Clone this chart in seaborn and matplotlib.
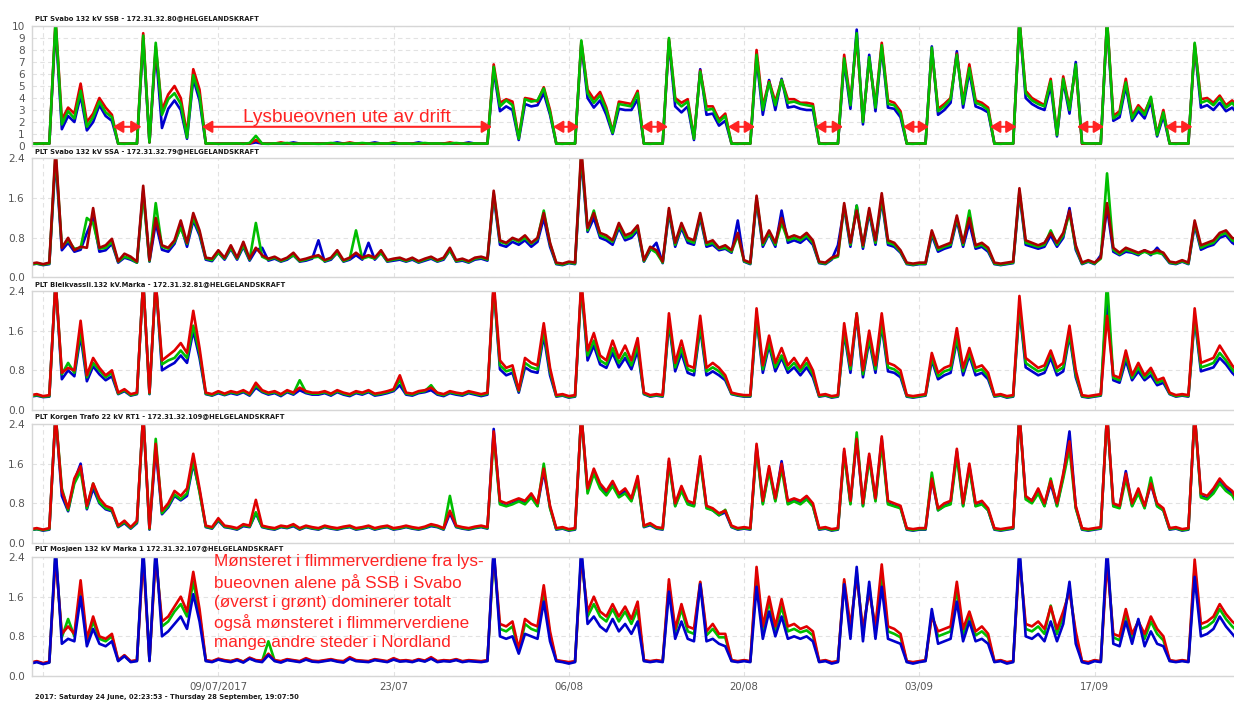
import matplotlib
matplotlib.use("Agg")
import matplotlib.pyplot as plt
import matplotlib.dates as mdates
import pandas as pd
import seaborn as sns

W, H = 1234, 702

# flicker values (Plt) sampled every 12 hours from Saturday 24 June 2017 00:00
times = pd.date_range("2017-06-24 00:00", periods=194, freq="12h")
t_start = pd.Timestamp("2017-06-24 02:23:53")
t_end = pd.Timestamp("2017-09-28 19:07:50")

# --- PLT Svabo 132 kV SSB ---
ssb_green = [0.2, 0.18, 0.22, 0.2,
             10.5, 1.8, 2.9, 2.3, 4.6, 1.6, 2.4, 3.7, 2.8, 2.4, 0.2, 0.18, 0.22, 0.2,
             9.2, 0.3, 8.6, 2.6, 3.9, 4.4, 3.5, 0.7, 5.9, 4.2, 0.2, 0.22, 0.18, 0.2,
             0.2, 0.22, 0.18, 0.25, 0.85, 0.2, 0.18, 0.22, 0.2, 0.25, 0.18, 0.2, 0.22, 0.2,
             0.18, 0.2, 0.25, 0.2, 0.18, 0.22, 0.2, 0.25, 0.2, 0.18, 0.22, 0.2, 0.25, 0.2,
             0.22, 0.18, 0.2, 0.25, 0.2, 0.22, 0.18, 0.2, 0.25, 0.2, 0.18, 0.22, 0.2, 0.2,
             6.6, 3.3, 3.8, 3.4, 0.6, 3.9, 3.7, 3.8, 4.8, 2.8, 0.2, 0.18, 0.22, 0.2,
             8.8, 4.4, 3.6, 4.2, 3.0, 1.1, 3.5, 3.4, 3.3, 4.4, 0.2, 0.18, 0.22, 0.2,
             9.0, 3.8, 3.3, 3.7, 0.6, 6.2, 3.0, 3.1, 2.0, 2.5, 0.2, 0.18, 0.22, 0.2,
             7.6, 3.0, 5.3, 3.4, 5.5, 3.6, 3.7, 3.5, 3.4, 3.3, 0.2, 0.18, 0.22, 0.2,
             7.3, 3.4, 9.4, 2.0, 7.4, 3.2, 8.4, 3.5, 3.4, 2.7, 0.2, 0.18, 0.22, 0.2,
             8.2, 2.9, 3.3, 3.9, 7.6, 3.5, 6.5, 3.6, 3.4, 3.0, 0.2, 0.18, 0.22, 0.2,
             10.5, 4.4, 3.8, 3.5, 3.3, 5.4, 0.9, 5.6, 3.0, 6.8, 0.25, 0.2, 0.22, 0.2,
             10.5, 2.3, 2.7, 5.3, 2.3, 3.2, 2.6, 4.1, 0.9, 2.8, 0.2, 0.18, 0.22, 0.2,
             8.6, 3.6, 3.8, 3.4, 4.0, 3.2, 3.6, 2.9]
ssb_red = [0.2, 0.2, 0.2, 0.2,
           10.5, 2.2, 3.2, 2.7, 5.2, 2.0, 2.7, 4.0, 3.2, 2.6, 0.2, 0.2, 0.2, 0.2,
           9.4, 0.3, 8.3, 3.0, 4.3, 5.0, 4.0, 1.0, 6.4, 4.7, 0.2, 0.2, 0.2, 0.2,
           0.2, 0.2, 0.2, 0.2, 0.5, 0.2, 0.2, 0.2, 0.3, 0.2, 0.2, 0.2, 0.2, 0.2,
           0.2, 0.2, 0.2, 0.2, 0.2, 0.3, 0.2, 0.2, 0.2, 0.2, 0.2, 0.2, 0.3, 0.2,
           0.2, 0.2, 0.2, 0.2, 0.2, 0.2, 0.2, 0.3, 0.2, 0.2, 0.2, 0.2, 0.2, 0.2,
           6.8, 3.6, 3.9, 3.7, 0.7, 4.0, 3.9, 3.7, 4.9, 3.0, 0.2, 0.2, 0.2, 0.2,
           8.7, 4.7, 3.9, 4.5, 3.2, 1.2, 3.7, 3.6, 3.5, 4.6, 0.2, 0.2, 0.2, 0.2,
           8.9, 4.0, 3.6, 3.9, 0.7, 6.3, 3.3, 3.3, 2.2, 2.7, 0.2, 0.2, 0.2, 0.2,
           8.0, 3.3, 5.4, 3.7, 5.5, 3.9, 3.9, 3.6, 3.6, 3.5, 0.2, 0.2, 0.2, 0.2,
           7.6, 3.7, 9.0, 2.1, 7.2, 3.4, 8.6, 3.8, 3.6, 2.9, 0.2, 0.2, 0.2, 0.2,
           8.0, 3.1, 3.5, 4.0, 7.7, 3.7, 6.8, 3.8, 3.6, 3.2, 0.2, 0.2, 0.2, 0.2,
           10.5, 4.6, 4.0, 3.7, 3.4, 5.6, 1.0, 5.8, 3.2, 6.6, 0.2, 0.2, 0.2, 0.2,
           10.5, 2.5, 2.9, 5.6, 2.5, 3.4, 2.8, 4.0, 1.0, 3.0, 0.2, 0.2, 0.2, 0.2,
           8.5, 3.9, 4.0, 3.6, 4.2, 3.4, 3.8, 3.1]
ssb_blue = [0.2, 0.2, 0.2, 0.2,
            10.0, 1.4, 2.5, 2.0, 4.2, 1.3, 2.0, 3.4, 2.5, 2.1, 0.2, 0.2, 0.2, 0.2,
            8.8, 0.3, 8.0, 1.5, 3.1, 3.8, 3.0, 0.6, 5.6, 3.8, 0.2, 0.2, 0.2, 0.2,
            0.2, 0.2, 0.2, 0.2, 0.3, 0.2, 0.2, 0.2, 0.2, 0.2, 0.3, 0.2, 0.2, 0.2,
            0.2, 0.2, 0.2, 0.3, 0.2, 0.2, 0.2, 0.2, 0.2, 0.3, 0.2, 0.2, 0.2, 0.2,
            0.2, 0.2, 0.3, 0.2, 0.2, 0.2, 0.2, 0.2, 0.2, 0.2, 0.3, 0.2, 0.2, 0.2,
            6.3, 2.9, 3.3, 3.0, 0.5, 3.5, 3.3, 3.4, 4.4, 2.6, 0.2, 0.2, 0.2, 0.2,
            8.5, 4.0, 3.2, 3.8, 2.6, 1.0, 3.1, 3.0, 3.0, 3.9, 0.2, 0.2, 0.2, 0.2,
            8.7, 3.3, 2.8, 3.3, 0.5, 6.4, 2.6, 2.7, 1.7, 2.1, 0.2, 0.2, 0.2, 0.2,
            7.3, 2.6, 5.5, 3.0, 5.6, 3.2, 3.3, 3.1, 3.0, 3.0, 0.2, 0.2, 0.2, 0.2,
            7.0, 3.1, 9.7, 1.8, 7.6, 2.9, 8.2, 3.2, 3.1, 2.4, 0.2, 0.2, 0.2, 0.2,
            8.3, 2.6, 3.0, 3.6, 7.9, 3.2, 6.2, 3.3, 3.1, 2.8, 0.2, 0.2, 0.2, 0.2,
            10.3, 4.0, 3.5, 3.2, 3.0, 5.0, 0.8, 5.4, 2.7, 7.0, 0.2, 0.2, 0.2, 0.2,
            10.3, 2.1, 2.4, 5.0, 2.1, 2.9, 2.3, 3.7, 0.8, 2.5, 0.2, 0.2, 0.2, 0.2,
            8.3, 3.2, 3.4, 3.0, 3.6, 2.9, 3.2, 2.6]

# --- PLT Svabo 132 kV SSA ---
ssa_red = [0.28, 0.3, 0.27, 0.3,
           2.6, 0.6, 0.8, 0.55, 0.62, 0.6, 1.4, 0.6, 0.65, 0.78, 0.33, 0.48, 0.42, 0.32,
           1.85, 0.35, 1.2, 0.65, 0.6, 0.75, 1.15, 0.7, 1.3, 0.95, 0.4, 0.38, 0.55, 0.4,
           0.65, 0.4, 0.72, 0.38, 0.6, 0.45, 0.38, 0.42, 0.35, 0.4, 0.5, 0.35, 0.38, 0.42,
           0.45, 0.35, 0.4, 0.55, 0.35, 0.4, 0.5, 0.4, 0.45, 0.4, 0.55, 0.35, 0.38, 0.4,
           0.35, 0.4, 0.33, 0.38, 0.42, 0.35, 0.4, 0.6, 0.35, 0.38, 0.33, 0.4, 0.42, 0.38,
           1.75, 0.75, 0.7, 0.8, 0.75, 0.85, 0.7, 0.8, 1.3, 0.7, 0.3, 0.28, 0.32, 0.3,
           2.6, 1.0, 1.3, 0.9, 0.85, 0.75, 1.1, 0.85, 0.9, 1.05, 0.35, 0.62, 0.55, 0.32,
           1.4, 0.7, 1.1, 0.8, 0.75, 1.3, 0.7, 0.75, 0.6, 0.65, 0.55, 0.9, 0.35, 0.3,
           1.65, 0.7, 0.95, 0.7, 1.2, 0.8, 0.85, 0.8, 0.9, 0.75, 0.32, 0.3, 0.4, 0.45,
           1.5, 0.7, 1.35, 0.65, 1.4, 0.75, 1.7, 0.75, 0.7, 0.55, 0.3, 0.28, 0.3, 0.3,
           0.95, 0.6, 0.65, 0.7, 1.25, 0.7, 1.2, 0.65, 0.7, 0.6, 0.3, 0.28, 0.3, 0.32,
           1.8, 0.75, 0.7, 0.65, 0.7, 0.9, 0.7, 0.9, 1.35, 0.65, 0.3, 0.35, 0.3, 0.4,
           1.5, 0.6, 0.5, 0.6, 0.55, 0.5, 0.55, 0.5, 0.55, 0.5, 0.32, 0.3, 0.35, 0.3,
           1.15, 0.65, 0.7, 0.75, 0.9, 0.95, 0.8, 0.75]
ssa_green = [0.27, 0.28, 0.26, 0.28,
             2.5, 0.62, 0.75, 0.58, 0.6, 1.2, 1.1, 0.58, 0.6, 0.72, 0.32, 0.42, 0.38, 0.3,
             1.7, 0.33, 1.5, 0.62, 0.58, 0.72, 1.0, 0.68, 1.2, 0.9, 0.38, 0.35, 0.5, 0.38,
             0.6, 0.38, 0.65, 0.36, 1.1, 0.42, 0.36, 0.4, 0.33, 0.38, 0.45, 0.33, 0.36, 0.4,
             0.42, 0.33, 0.38, 0.5, 0.33, 0.38, 0.95, 0.38, 0.42, 0.38, 0.5, 0.33, 0.36, 0.38,
             0.33, 0.38, 0.31, 0.36, 0.4, 0.33, 0.38, 0.55, 0.33, 0.36, 0.31, 0.38, 0.4, 0.36,
             1.7, 0.72, 0.68, 0.78, 0.72, 0.8, 0.68, 0.78, 1.35, 0.68, 0.28, 0.26, 0.3, 0.28,
             2.5, 0.95, 1.35, 0.85, 0.8, 0.72, 1.05, 0.8, 0.85, 1.0, 0.33, 0.58, 0.5, 0.3,
             1.35, 0.66, 1.05, 0.75, 0.7, 1.25, 0.66, 0.7, 0.58, 0.6, 0.52, 0.85, 0.33, 0.28,
             1.6, 0.66, 0.9, 0.66, 1.1, 0.75, 0.8, 0.75, 0.85, 0.7, 0.3, 0.28, 0.38, 0.42,
             1.45, 0.66, 1.45, 0.62, 1.35, 0.7, 1.6, 0.7, 0.66, 0.52, 0.28, 0.26, 0.28, 0.28,
             0.9, 0.56, 0.62, 0.66, 1.2, 0.66, 1.35, 0.62, 0.66, 0.56, 0.28, 0.26, 0.28, 0.3,
             1.75, 0.7, 0.66, 0.62, 0.66, 0.95, 0.66, 0.85, 1.3, 0.6, 0.28, 0.33, 0.28, 0.38,
             2.1, 0.56, 0.47, 0.56, 0.52, 0.47, 0.52, 0.47, 0.5, 0.47, 0.3, 0.28, 0.33, 0.28,
             1.1, 0.6, 0.66, 0.7, 0.85, 0.9, 0.75, 0.7]
ssa_blue = [0.26, 0.28, 0.25, 0.27,
            2.4, 0.55, 0.7, 0.52, 0.56, 0.9, 1.2, 0.52, 0.55, 0.68, 0.3, 0.4, 0.36, 0.3,
            1.75, 0.32, 1.1, 0.56, 0.52, 0.68, 1.05, 0.62, 1.15, 0.85, 0.36, 0.33, 0.5, 0.36,
            0.58, 0.36, 0.62, 0.34, 0.55, 0.6, 0.34, 0.38, 0.32, 0.36, 0.45, 0.32, 0.34, 0.38,
            0.75, 0.32, 0.36, 0.5, 0.32, 0.36, 0.45, 0.36, 0.7, 0.36, 0.5, 0.32, 0.34, 0.36,
            0.32, 0.36, 0.3, 0.34, 0.38, 0.32, 0.36, 0.55, 0.32, 0.34, 0.3, 0.36, 0.38, 0.34,
            1.65, 0.66, 0.62, 0.72, 0.66, 0.75, 0.62, 0.72, 1.2, 0.62, 0.27, 0.25, 0.29, 0.27,
            2.4, 0.92, 1.2, 0.8, 0.75, 0.66, 1.0, 0.75, 0.8, 0.95, 0.32, 0.55, 0.7, 0.29,
            1.3, 0.62, 1.0, 0.7, 0.66, 1.2, 0.62, 0.66, 0.55, 0.58, 0.5, 1.15, 0.32, 0.27,
            1.55, 0.62, 0.88, 0.62, 1.35, 0.7, 0.75, 0.7, 0.8, 0.66, 0.29, 0.27, 0.36, 0.65,
            1.4, 0.62, 1.45, 0.58, 1.3, 0.66, 1.55, 0.66, 0.62, 0.5, 0.27, 0.25, 0.27, 0.27,
            0.85, 0.52, 0.58, 0.62, 1.15, 0.62, 1.1, 0.58, 0.62, 0.52, 0.27, 0.25, 0.27, 0.29,
            1.7, 0.66, 0.62, 0.58, 0.62, 0.85, 0.62, 0.8, 1.4, 0.56, 0.27, 0.32, 0.27, 0.45,
            1.4, 0.52, 0.45, 0.52, 0.5, 0.45, 0.55, 0.45, 0.6, 0.45, 0.29, 0.27, 0.32, 0.27,
            1.05, 0.56, 0.62, 0.66, 0.8, 0.85, 0.7, 0.62]

# --- PLT Bleikvassli 132 kV Marka ---
bleik_red = [0.3, 0.32, 0.28, 0.3,
             2.6, 0.75, 0.85, 0.8, 1.8, 0.7, 1.05, 0.85, 0.7, 0.8, 0.35, 0.42, 0.32, 0.35,
             2.6, 0.35, 2.6, 1.0, 1.1, 1.2, 1.35, 1.15, 2.0, 1.25, 0.35, 0.32, 0.38, 0.33,
             0.38, 0.35, 0.4, 0.33, 0.55, 0.4, 0.35, 0.38, 0.32, 0.4, 0.35, 0.45, 0.38, 0.35,
             0.35, 0.38, 0.33, 0.4, 0.35, 0.32, 0.38, 0.35, 0.4, 0.33, 0.35, 0.38, 0.42, 0.7,
             0.35, 0.33, 0.38, 0.4, 0.45, 0.35, 0.32, 0.38, 0.35, 0.33, 0.38, 0.35, 0.32, 0.35,
             2.6, 1.0, 0.85, 0.9, 0.4, 1.05, 0.95, 0.9, 1.75, 0.85, 0.3, 0.32, 0.28, 0.3,
             2.6, 1.2, 1.55, 1.1, 1.0, 1.4, 1.05, 1.3, 1.0, 1.45, 0.35, 0.3, 0.32, 0.3,
             1.95, 0.95, 1.4, 0.9, 0.85, 1.9, 0.85, 0.95, 0.85, 0.7, 0.35, 0.32, 0.3, 0.3,
             2.05, 0.9, 1.5, 0.95, 1.25, 0.9, 1.05, 0.85, 1.05, 0.8, 0.3, 0.32, 0.28, 0.3,
             1.75, 0.9, 1.95, 0.8, 1.6, 0.9, 1.95, 0.95, 0.9, 0.8, 0.3, 0.28, 0.3, 0.32,
             1.15, 0.75, 0.85, 0.9, 1.65, 0.85, 1.25, 0.85, 0.9, 0.75, 0.3, 0.32, 0.28, 0.3,
             2.3, 1.05, 0.95, 0.85, 0.9, 1.2, 0.85, 0.95, 1.7, 0.8, 0.3, 0.28, 0.3, 0.32,
             1.9, 0.7, 0.65, 1.2, 0.7, 0.95, 0.7, 0.85, 0.6, 0.65, 0.35, 0.3, 0.32, 0.3,
             2.05, 0.95, 1.0, 1.05, 1.3, 1.1, 0.9, 0.75]
bleik_green = [0.28, 0.3, 0.27, 0.28,
               2.6, 0.72, 0.95, 0.75, 1.6, 0.66, 0.95, 0.8, 0.66, 0.75, 0.33, 0.4, 0.3, 0.33,
               2.6, 0.33, 2.6, 0.92, 1.0, 1.05, 1.2, 1.05, 1.7, 1.15, 0.33, 0.3, 0.36, 0.31,
               0.36, 0.33, 0.38, 0.31, 0.5, 0.38, 0.33, 0.36, 0.3, 0.38, 0.33, 0.6, 0.36, 0.33,
               0.33, 0.36, 0.31, 0.38, 0.33, 0.3, 0.36, 0.33, 0.38, 0.31, 0.33, 0.36, 0.4, 0.6,
               0.33, 0.31, 0.36, 0.38, 0.5, 0.33, 0.3, 0.36, 0.33, 0.31, 0.36, 0.33, 0.3, 0.33,
               2.5, 0.9, 0.78, 0.82, 0.38, 0.95, 0.86, 0.82, 1.6, 0.78, 0.28, 0.3, 0.26, 0.28,
               2.5, 1.1, 1.4, 1.0, 0.92, 1.25, 0.95, 1.15, 0.9, 1.3, 0.33, 0.28, 0.3, 0.28,
               1.8, 0.86, 1.25, 0.82, 0.78, 1.7, 0.78, 0.86, 0.78, 0.65, 0.33, 0.3, 0.28, 0.28,
               1.9, 0.82, 1.35, 0.86, 1.1, 0.82, 0.95, 0.78, 0.95, 0.72, 0.28, 0.3, 0.26, 0.28,
               1.6, 0.82, 1.95, 0.72, 1.45, 0.82, 1.75, 0.86, 0.82, 0.72, 0.28, 0.26, 0.28, 0.3,
               1.05, 0.68, 0.78, 0.82, 1.45, 0.78, 1.15, 0.78, 0.82, 0.68, 0.28, 0.3, 0.26, 0.28,
               2.1, 0.95, 0.86, 0.78, 0.82, 1.15, 0.78, 0.86, 1.55, 0.72, 0.28, 0.26, 0.28, 0.3,
               2.6, 0.65, 0.6, 1.1, 0.65, 0.86, 0.65, 0.78, 0.55, 0.6, 0.33, 0.28, 0.3, 0.28,
               1.9, 0.86, 0.9, 0.95, 1.15, 1.0, 0.82, 0.68]
bleik_blue = [0.27, 0.29, 0.26, 0.27,
              2.6, 0.62, 0.8, 0.68, 1.5, 0.58, 0.88, 0.72, 0.6, 0.68, 0.32, 0.38, 0.29, 0.32,
              2.6, 0.32, 2.6, 0.8, 0.88, 0.95, 1.1, 0.95, 1.6, 1.05, 0.32, 0.29, 0.34, 0.3,
              0.34, 0.31, 0.36, 0.29, 0.45, 0.36, 0.31, 0.34, 0.28, 0.36, 0.31, 0.4, 0.34, 0.31,
              0.31, 0.34, 0.29, 0.36, 0.31, 0.28, 0.34, 0.31, 0.36, 0.29, 0.31, 0.34, 0.38, 0.5,
              0.31, 0.29, 0.34, 0.36, 0.4, 0.31, 0.28, 0.34, 0.31, 0.29, 0.34, 0.31, 0.28, 0.31,
              2.5, 0.82, 0.7, 0.75, 0.35, 0.86, 0.78, 0.75, 1.5, 0.7, 0.27, 0.29, 0.25, 0.27,
              2.5, 1.0, 1.3, 0.92, 0.85, 1.15, 0.86, 1.05, 0.82, 1.2, 0.32, 0.27, 0.29, 0.27,
              1.75, 0.78, 1.15, 0.75, 0.7, 1.65, 0.7, 0.78, 0.7, 0.6, 0.32, 0.29, 0.27, 0.27,
              1.85, 0.75, 1.3, 0.78, 1.05, 0.75, 0.86, 0.7, 0.86, 0.66, 0.27, 0.29, 0.25, 0.27,
              1.55, 0.75, 1.9, 0.66, 1.4, 0.75, 1.7, 0.78, 0.75, 0.66, 0.27, 0.25, 0.27, 0.29,
              1.0, 0.62, 0.7, 0.75, 1.4, 0.7, 1.1, 0.7, 0.75, 0.62, 0.27, 0.29, 0.25, 0.27,
              2.05, 0.86, 0.78, 0.7, 0.75, 1.05, 0.7, 0.78, 1.5, 0.66, 0.27, 0.25, 0.27, 0.29,
              2.3, 0.6, 0.55, 1.0, 0.6, 0.78, 0.6, 0.7, 0.5, 0.55, 0.32, 0.27, 0.29, 0.27,
              1.85, 0.78, 0.82, 0.86, 1.05, 0.92, 0.75, 0.62]

# --- PLT Korgen Trafo 22 kV RT1 ---
korgen_red = [0.28, 0.3, 0.27, 0.3,
              2.6, 1.05, 0.7, 1.3, 1.55, 0.75, 1.2, 0.9, 0.75, 0.7, 0.35, 0.45, 0.32, 0.45,
              2.6, 0.3, 2.0, 0.65, 0.8, 1.05, 0.95, 1.1, 1.8, 1.1, 0.35, 0.32, 0.5, 0.35,
              0.33, 0.3, 0.38, 0.35, 0.87, 0.35, 0.32, 0.3, 0.35, 0.33, 0.38, 0.3, 0.35, 0.32,
              0.3, 0.35, 0.32, 0.3, 0.33, 0.35, 0.3, 0.32, 0.35, 0.3, 0.33, 0.35, 0.3, 0.32,
              0.35, 0.32, 0.3, 0.33, 0.38, 0.35, 0.3, 0.65, 0.35, 0.32, 0.3, 0.33, 0.35, 0.32,
              2.25, 0.85, 0.8, 0.85, 0.9, 0.85, 1.0, 0.8, 1.5, 0.75, 0.3, 0.32, 0.28, 0.3,
              2.6, 1.1, 1.5, 1.2, 1.05, 1.25, 1.0, 1.1, 0.9, 1.35, 0.35, 0.4, 0.32, 0.3,
              1.7, 0.8, 1.15, 0.85, 0.8, 1.75, 0.75, 0.7, 0.6, 0.65, 0.35, 0.3, 0.32, 0.3,
              2.0, 0.85, 1.55, 0.9, 1.6, 0.85, 0.9, 0.85, 0.95, 0.8, 0.3, 0.32, 0.28, 0.3,
              1.9, 0.85, 2.1, 0.8, 1.8, 0.9, 2.15, 0.85, 0.8, 0.75, 0.3, 0.28, 0.3, 0.3,
              1.3, 0.7, 0.8, 0.85, 1.9, 0.8, 1.6, 0.8, 0.85, 0.7, 0.3, 0.28, 0.3, 0.32,
              2.6, 0.95, 0.85, 1.1, 0.8, 1.25, 0.8, 1.4, 2.05, 0.75, 0.3, 0.28, 0.3, 0.32,
              2.6, 0.8, 0.75, 1.4, 0.8, 1.1, 0.75, 1.2, 0.8, 0.7, 0.3, 0.32, 0.28, 0.3,
              2.6, 1.0, 0.95, 1.1, 1.3, 1.15, 1.05, 0.8]
korgen_green = [0.27, 0.28, 0.26, 0.28,
                2.6, 1.1, 0.66, 1.2, 1.45, 0.7, 1.2, 0.82, 0.7, 0.66, 0.33, 0.42, 0.3, 0.42,
                2.6, 0.28, 2.1, 0.6, 0.75, 0.98, 0.88, 1.0, 1.65, 1.02, 0.33, 0.3, 0.47, 0.33,
                0.31, 0.28, 0.36, 0.33, 0.62, 0.33, 0.3, 0.28, 0.33, 0.31, 0.36, 0.28, 0.33, 0.3,
                0.28, 0.33, 0.3, 0.28, 0.31, 0.33, 0.28, 0.3, 0.33, 0.28, 0.31, 0.33, 0.28, 0.3,
                0.33, 0.3, 0.28, 0.31, 0.36, 0.33, 0.28, 0.95, 0.33, 0.3, 0.28, 0.31, 0.33, 0.3,
                2.15, 0.78, 0.74, 0.78, 0.84, 0.78, 0.92, 0.74, 1.6, 0.7, 0.28, 0.3, 0.26, 0.28,
                2.6, 1.0, 1.4, 1.1, 0.96, 1.15, 0.92, 1.0, 0.84, 1.25, 0.33, 0.38, 0.3, 0.28,
                1.6, 0.74, 1.05, 0.78, 0.74, 1.65, 0.7, 0.66, 0.56, 0.67, 0.33, 0.28, 0.3, 0.28,
                1.9, 0.78, 1.45, 0.84, 1.5, 0.78, 0.84, 0.78, 0.88, 0.74, 0.28, 0.3, 0.26, 0.28,
                1.8, 0.78, 2.23, 0.74, 1.7, 0.84, 2.0, 0.78, 0.74, 0.7, 0.28, 0.26, 0.28, 0.28,
                1.42, 0.66, 0.74, 0.78, 1.75, 0.74, 1.5, 0.74, 0.78, 0.66, 0.28, 0.26, 0.28, 0.3,
                2.6, 0.88, 0.8, 1.0, 0.74, 1.3, 0.74, 1.3, 1.9, 0.7, 0.28, 0.26, 0.28, 0.3,
                2.6, 0.74, 0.7, 1.3, 0.74, 1.0, 0.7, 1.32, 0.74, 0.66, 0.28, 0.3, 0.26, 0.28,
                2.6, 0.92, 0.88, 1.0, 1.2, 1.05, 0.96, 0.74]
korgen_blue = [0.26, 0.28, 0.25, 0.27,
               2.6, 0.95, 0.64, 1.25, 1.6, 0.68, 1.1, 0.8, 0.68, 0.64, 0.32, 0.4, 0.29, 0.4,
               2.6, 0.27, 1.9, 0.58, 0.72, 0.95, 0.86, 0.95, 1.6, 1.05, 0.32, 0.29, 0.45, 0.32,
               0.3, 0.27, 0.34, 0.32, 0.6, 0.32, 0.29, 0.27, 0.32, 0.3, 0.34, 0.27, 0.32, 0.29,
               0.27, 0.32, 0.29, 0.27, 0.3, 0.32, 0.27, 0.29, 0.32, 0.27, 0.3, 0.32, 0.27, 0.29,
               0.32, 0.29, 0.27, 0.3, 0.34, 0.32, 0.27, 0.6, 0.32, 0.29, 0.27, 0.3, 0.32, 0.29,
               2.3, 0.8, 0.75, 0.8, 0.86, 0.8, 0.95, 0.75, 1.45, 0.72, 0.27, 0.29, 0.25, 0.27,
               2.6, 1.05, 1.45, 1.15, 1.0, 1.2, 0.95, 1.05, 0.86, 1.3, 0.32, 0.36, 0.29, 0.27,
               1.65, 0.75, 1.1, 0.8, 0.75, 1.7, 0.72, 0.66, 0.56, 0.62, 0.32, 0.27, 0.29, 0.27,
               1.95, 0.8, 1.5, 0.86, 1.65, 0.8, 0.86, 0.8, 0.9, 0.75, 0.27, 0.29, 0.25, 0.27,
               1.85, 0.8, 2.1, 0.75, 1.75, 0.86, 2.1, 0.8, 0.75, 0.72, 0.27, 0.25, 0.27, 0.27,
               1.3, 0.66, 0.75, 0.8, 1.85, 0.75, 1.55, 0.75, 0.8, 0.66, 0.27, 0.25, 0.27, 0.29,
               2.6, 0.92, 0.86, 1.05, 0.75, 1.2, 0.75, 1.35, 2.25, 0.72, 0.27, 0.25, 0.27, 0.29,
               2.6, 0.75, 0.72, 1.45, 0.75, 1.05, 0.72, 1.2, 0.75, 0.66, 0.27, 0.29, 0.25, 0.27,
               2.6, 0.95, 0.9, 1.05, 1.25, 1.1, 1.0, 0.75]

# --- PLT Mosjøen 132 kV Marka 1 ---
mosj_blue = [0.25, 0.28, 0.24, 0.27,
             2.6, 0.65, 0.75, 0.7, 1.6, 0.6, 0.95, 0.65, 0.6, 0.7, 0.3, 0.4, 0.28, 0.3,
             2.6, 0.3, 2.6, 0.8, 0.9, 1.05, 1.2, 0.95, 1.65, 1.1, 0.3, 0.28, 0.33, 0.3,
             0.28, 0.32, 0.27, 0.35, 0.3, 0.28, 0.42, 0.3, 0.27, 0.32, 0.3, 0.28, 0.33, 0.29,
             0.28, 0.3, 0.32, 0.29, 0.27, 0.35, 0.3, 0.29, 0.28, 0.32, 0.3, 0.28, 0.33, 0.29,
             0.3, 0.28, 0.32, 0.29, 0.35, 0.28, 0.3, 0.29, 0.32, 0.28, 0.3, 0.29, 0.28, 0.3,
             2.6, 0.8, 0.75, 0.8, 0.45, 0.85, 0.8, 0.75, 1.5, 0.7, 0.3, 0.28, 0.25, 0.28,
             2.6, 1.05, 1.2, 1.0, 0.9, 1.15, 0.9, 1.05, 0.85, 1.1, 0.3, 0.28, 0.3, 0.28,
             1.7, 0.75, 1.1, 0.75, 0.7, 1.85, 0.7, 0.75, 0.65, 0.6, 0.3, 0.28, 0.3, 0.28,
             1.8, 0.75, 1.3, 0.8, 1.2, 0.75, 0.8, 0.75, 0.8, 0.7, 0.28, 0.3, 0.25, 0.28,
             1.85, 0.75, 2.2, 0.7, 1.9, 0.75, 1.8, 0.75, 0.7, 0.65, 0.28, 0.25, 0.28, 0.3,
             1.35, 0.65, 0.7, 0.75, 1.5, 0.7, 1.1, 0.7, 0.75, 0.65, 0.28, 0.3, 0.25, 0.28,
             2.6, 0.8, 0.75, 0.85, 0.7, 1.1, 0.7, 1.05, 1.9, 0.65, 0.28, 0.25, 0.3, 0.28,
             2.6, 0.65, 0.6, 1.1, 0.65, 1.15, 0.6, 0.9, 0.65, 0.6, 0.3, 0.28, 0.3, 0.28,
             2.0, 0.8, 0.85, 0.95, 1.2, 1.0, 0.85, 0.7]
mosj_red = [0.27, 0.3, 0.26, 0.29,
            2.4, 0.85, 1.0, 0.85, 1.93, 0.75, 1.2, 0.8, 0.75, 0.85, 0.32, 0.42, 0.3, 0.32,
            2.4, 0.32, 2.4, 1.1, 1.2, 1.4, 1.6, 1.3, 2.1, 1.35, 0.32, 0.3, 0.35, 0.32,
            0.3, 0.34, 0.29, 0.37, 0.32, 0.31, 0.45, 0.32, 0.3, 0.34, 0.32, 0.3, 0.36, 0.31,
            0.3, 0.32, 0.34, 0.31, 0.3, 0.38, 0.32, 0.31, 0.3, 0.34, 0.32, 0.3, 0.36, 0.31,
            0.32, 0.3, 0.34, 0.31, 0.38, 0.3, 0.32, 0.31, 0.34, 0.3, 0.32, 0.31, 0.3, 0.32,
            2.5, 1.05, 1.0, 1.1, 0.55, 1.15, 1.05, 1.0, 1.83, 0.9, 0.32, 0.3, 0.28, 0.3,
            2.4, 1.3, 1.6, 1.3, 1.2, 1.45, 1.2, 1.4, 1.15, 1.5, 0.32, 0.3, 0.32, 0.3,
            1.95, 0.95, 1.45, 1.0, 0.95, 1.9, 0.9, 1.05, 0.85, 0.85, 0.32, 0.3, 0.32, 0.3,
            2.2, 1.0, 1.6, 1.0, 1.55, 1.0, 1.05, 0.95, 1.0, 0.9, 0.3, 0.32, 0.28, 0.3,
            1.95, 1.0, 2.0, 0.95, 1.7, 1.0, 2.25, 1.0, 0.95, 0.85, 0.3, 0.28, 0.3, 0.32,
            1.2, 0.9, 0.95, 1.0, 1.9, 0.95, 1.3, 0.9, 1.0, 0.85, 0.3, 0.32, 0.28, 0.3,
            2.4, 1.05, 1.0, 1.1, 0.95, 1.4, 0.95, 1.3, 1.7, 0.9, 0.3, 0.28, 0.32, 0.3,
            2.3, 0.85, 0.8, 1.35, 0.85, 1.1, 0.85, 1.2, 0.95, 0.8, 0.32, 0.3, 0.32, 0.3,
            2.35, 1.05, 1.1, 1.2, 1.45, 1.25, 1.1, 1.0]
mosj_green = [0.26, 0.29, 0.25, 0.28,
              2.5, 0.78, 1.15, 0.8, 1.75, 0.7, 1.1, 0.75, 0.7, 0.8, 0.31, 0.41, 0.29, 0.31,
              2.5, 0.31, 2.5, 1.0, 1.1, 1.3, 1.45, 1.2, 1.9, 1.25, 0.31, 0.29, 0.34, 0.31,
              0.3, 0.33, 0.29, 0.36, 0.31, 0.3, 0.7, 0.31, 0.29, 0.33, 0.31, 0.29, 0.34, 0.3,
              0.29, 0.31, 0.33, 0.3, 0.29, 0.36, 0.31, 0.3, 0.29, 0.33, 0.31, 0.29, 0.34, 0.3,
              0.31, 0.29, 0.33, 0.3, 0.36, 0.29, 0.31, 0.3, 0.33, 0.29, 0.31, 0.3, 0.29, 0.31,
              2.45, 0.95, 0.9, 1.0, 0.5, 1.05, 0.95, 0.9, 1.7, 0.82, 0.31, 0.29, 0.27, 0.29,
              2.45, 1.2, 1.45, 1.2, 1.1, 1.35, 1.1, 1.3, 1.05, 1.35, 0.31, 0.29, 0.31, 0.29,
              1.85, 0.88, 1.35, 0.9, 0.85, 1.88, 0.82, 0.95, 0.78, 0.78, 0.31, 0.29, 0.31, 0.29,
              2.05, 0.9, 1.5, 0.92, 1.4, 0.9, 0.95, 0.88, 0.92, 0.82, 0.29, 0.31, 0.27, 0.29,
              1.9, 0.9, 2.1, 0.85, 1.8, 0.9, 2.05, 0.9, 0.85, 0.78, 0.29, 0.27, 0.29, 0.31,
              1.25, 0.8, 0.85, 0.9, 1.75, 0.85, 1.22, 0.82, 0.9, 0.78, 0.29, 0.31, 0.27, 0.29,
              2.45, 0.95, 0.9, 1.0, 0.85, 1.42, 0.85, 1.2, 1.8, 0.8, 0.29, 0.27, 0.31, 0.29,
              2.45, 0.78, 0.72, 1.25, 0.78, 1.12, 0.75, 1.1, 0.85, 0.72, 0.31, 0.29, 0.31, 0.29,
              2.2, 0.95, 1.0, 1.1, 1.35, 1.15, 1.0, 0.88]

titles = ["PLT Svabo 132 kV SSB - 172.31.32.80@HELGELANDSKRAFT",
          "PLT Svabo 132 kV SSA - 172.31.32.79@HELGELANDSKRAFT",
          "PLT Bleikvassli.132 kV.Marka - 172.31.32.81@HELGELANDSKRAFT",
          "PLT Korgen Trafo 22 kV RT1 - 172.31.32.109@HELGELANDSKRAFT",
          "PLT Mosjøen 132 kV Marka 1 172.31.32.107@HELGELANDSKRAFT"]

tick_dates = ["2017-06-25", "2017-07-09", "2017-07-23", "2017-08-06",
              "2017-08-20", "2017-09-03", "2017-09-17"]
tick_labels = ["", "09/07/2017", "23/07", "06/08", "20/08", "03/09", "17/09"]

# oven shut-down periods marked with arrows in the top panel
off_arrows = [("2017-06-30 14:05", "2017-07-02 20:45"),
              ("2017-07-07 16:45", "2017-07-30 20:47"),
              ("2017-08-04 17:44", "2017-08-06 19:35"),
              ("2017-08-11 18:28", "2017-08-13 22:19"),
              ("2017-08-18 17:17", "2017-08-20 21:07"),
              ("2017-08-25 16:05", "2017-08-27 21:50"),
              ("2017-09-01 16:48", "2017-09-03 18:43"),
              ("2017-09-08 15:36", "2017-09-10 18:30"),
              ("2017-09-15 14:24", "2017-09-17 18:14"),
              ("2017-09-22 15:07", "2017-09-24 19:55")]

GREEN, BLUE, RED, DARKRED = "#00be00", "#0000cc", "#e00000", "#a80000"
NOTE = "#ff2323"

sns.set_style("white")
plt.rcParams["font.family"] = ["DejaVu Sans"]

panels = [
    dict(lines={"blue": ssb_blue, "red": ssb_red, "green": ssb_green},
         order=["blue", "red", "green"], red=RED, ymax=10,
         yticks=list(range(11)), ylabels=[str(v) for v in range(11)], top=26, bottom=146),
    dict(lines={"blue": ssa_blue, "green": ssa_green, "red": ssa_red},
         order=["blue", "green", "red"], red=DARKRED, ymax=2.4,
         yticks=[0, 0.8, 1.6, 2.4], ylabels=["0.0", "0.8", "1.6", "2.4"], top=158.5, bottom=277.5),
    dict(lines={"blue": bleik_blue, "green": bleik_green, "red": bleik_red},
         order=["blue", "green", "red"], red=RED, ymax=2.4,
         yticks=[0, 0.8, 1.6, 2.4], ylabels=["0.0", "0.8", "1.6", "2.4"], top=291, bottom=410),
    dict(lines={"blue": korgen_blue, "green": korgen_green, "red": korgen_red},
         order=["blue", "green", "red"], red=RED, ymax=2.4,
         yticks=[0, 0.8, 1.6, 2.4], ylabels=["0.0", "0.8", "1.6", "2.4"], top=424, bottom=543),
    dict(lines={"blue": mosj_blue, "green": mosj_green, "red": mosj_red},
         order=["green", "red", "blue"], red=RED, ymax=2.4,
         yticks=[0, 0.8, 1.6, 2.4], ylabels=["0.0", "0.8", "1.6", "2.4"], top=557, bottom=676),
]
title_y = [18, 151.5, 284.5, 417, 549]

fig = plt.figure(figsize=(W / 100, H / 100), dpi=100)

x0_px = 31.8
x1_px = 1242.2

for k, p in enumerate(panels):
    ax = fig.add_axes([x0_px / W, 1 - p["bottom"] / H,
                       (x1_px - x0_px) / W, (p["bottom"] - p["top"]) / H])
    frames = []
    for name, vals in p["lines"].items():
        frames.append(pd.DataFrame({"time": times, "value": vals, "line": name}))
    df = pd.concat(frames, ignore_index=True)
    palette = {"green": GREEN, "blue": BLUE, "red": p["red"]}
    sns.lineplot(data=df, x="time", y="value", hue="line", hue_order=p["order"],
                 palette=palette, estimator=None, linewidth=1.9, legend=False, ax=ax)

    ax.set_xlim(t_start, t_end)
    ax.set_ylim(0, p["ymax"])
    ax.set_yticks(p["yticks"])
    ax.set_yticklabels(p["ylabels"])
    ax.set_xticks([pd.Timestamp(d) for d in tick_dates])
    ax.set_xticklabels(tick_labels)
    ax.set_xlabel("")
    ax.set_ylabel("")
    ax.tick_params(axis="both", length=0, colors="#555555", labelsize=7.6, pad=5)
    ax.tick_params(axis="x", labelsize=7.3, pad=4, labelbottom=(k == len(panels) - 1))
    ax.grid(True, axis="both", color="#e2e2e2", linestyle=(0, (4, 3)), linewidth=0.8)
    ax.set_axisbelow(True)
    for sp in ax.spines.values():
        sp.set_color("#d6d6d6")
        sp.set_linewidth(1.0)

    fig.text(35 / W, 1 - title_y[k] / H, titles[k], fontsize=4.9, fontweight="bold",
             color="#1a1a1a", va="center", ha="left")

    if k == 0:
        for s, e in off_arrows:
            ax.annotate("", xy=(mdates.date2num(pd.Timestamp(e)), 1.6),
                        xytext=(mdates.date2num(pd.Timestamp(s)), 1.6),
                        arrowprops=dict(arrowstyle="<|-|>,head_length=0.6,head_width=0.36",
                                        color=NOTE, lw=1.5, shrinkA=0, shrinkB=0,
                                        mutation_scale=10))

fig.text(243 / W, 1 - 117 / H, "Lysbueovnen ute av drift", fontsize=13.8,
         family=["Liberation Sans", "DejaVu Sans"], color=NOTE, va="center", ha="left")

fig.text(214 / W, 1 - 554 / H,
         "Mønsteret i flimmerverdiene fra lys-\n"
         "bueovnen alene på SSB i Svabo\n"
         "(øverst i grønt) dominerer totalt\n"
         "også mønsteret i flimmerverdiene\n"
         "mange andre steder i Nordland",
         fontsize=12.3, family=["Liberation Sans", "DejaVu Sans"], color=NOTE,
         va="top", ha="left", linespacing=1.33)

fig.text(35 / W, 1 - 694.5 / H,
         "2017: Saturday 24 June, 02:23:53 - Thursday 28 September, 19:07:50",
         fontsize=4.9, fontweight="bold", color="#1a1a1a", va="top", ha="left")

fig.savefig("out.png", dpi=100)
